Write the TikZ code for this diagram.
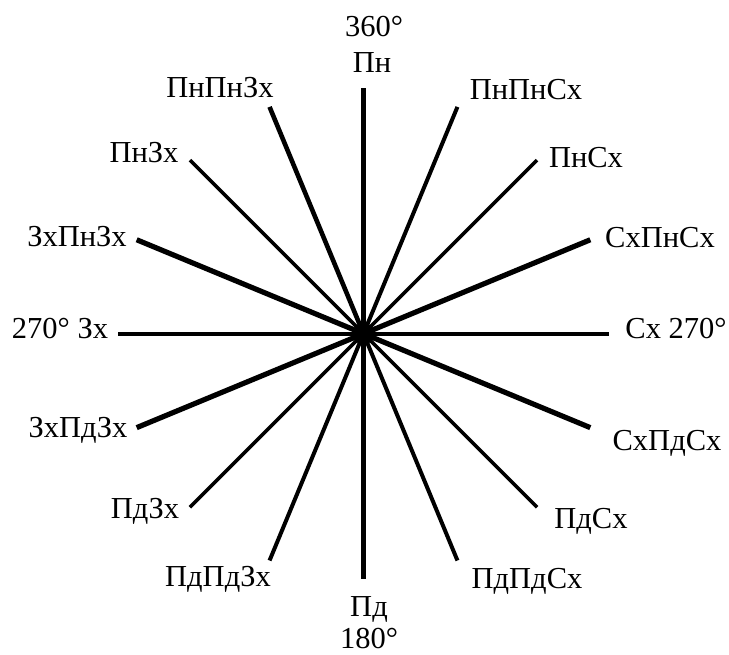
\documentclass[tikz,border=0pt]{standalone}
\usepackage{fontspec}
\setmainfont{Liberation Serif}
\usetikzlibrary{calc}
\begin{document}
\begin{tikzpicture}[x=1pt,y=1pt,
  lbl/.style={anchor=base,inner sep=0pt,font=\fontsize{30.5}{34}\selectfont},
  ray/.style={line width=#1,black},
  ray/.default=3.6pt]
\useasboundingbox (0,0) rectangle (729,-655);
\coordinate (C) at (363.5,-333.7);
% ray end points
\foreach \a/\n in {0/E,22.5/ENE,45/NE,67.5/NNE,90/N,112.5/NNW,135/NW,157.5/WNW,180/W,202.5/WSW,225/SW,247.5/SSW,270/S,292.5/SSE,315/SE,337.5/ESE}
  \coordinate (\n) at ($(C)+(\a:245.5)$);
% rays
\draw[ray=4.2pt] (C) -- (N);
\draw[ray=4.2pt] (C) -- (S);
\draw[ray=4.2pt] (C) -- (E);
\draw[ray=4.2pt] (C) -- (W);
\draw[ray=5.2pt] (C) -- (ENE);
\draw[ray=5.2pt] (C) -- (WNW);
\draw[ray=5.2pt] (C) -- (WSW);
\draw[ray=5.2pt] (C) -- (ESE);
\draw[ray=4.6pt] (C) -- (NNW);
\draw[ray=4pt] (C) -- (NNE);
\draw[ray=4pt] (C) -- (SSW);
\draw[ray=4pt] (C) -- (SSE);
\draw[ray=3.6pt] (C) -- (NE);
\draw[ray=3.6pt] (C) -- (NW);
\draw[ray=3.6pt] (C) -- (SW);
\draw[ray=3.6pt] (C) -- (SE);
\fill (C) circle (11);
% labels
\node[lbl] (l360) at (374,-37) {360°};
\node[lbl] (lN) at (372,-73) {Пн};
\node[lbl] (lNNW) at (220,-98) {ПнПнЗх};
\node[lbl] (lNNE) at (526,-100) {ПнПнСх};
\node[lbl] (lNW) at (144,-163) {ПнЗх};
\node[lbl] (lNE) at (586,-168) {ПнСх};
\node[lbl] (lWNW) at (77,-247) {ЗхПнЗх};
\node[lbl] (lENE) at (660,-248) {СхПнСх};
\node[lbl] (lW) at (60,-338) {270° Зх};
\node[lbl] (lE) at (676,-338) {Сх 270°};
\node[lbl] (lWSW) at (78,-437) {ЗхПдЗх};
\node[lbl] (lESE) at (667,-450) {СхПдСх};
\node[lbl] (lSW) at (145,-518) {ПдЗх};
\node[lbl] (lSE) at (591,-528) {ПдСх};
\node[lbl] (lSSW) at (218,-586) {ПдПдЗх};
\node[lbl] (lSSE) at (527,-588) {ПдПдСх};
\node[lbl] (lS) at (369,-616) {Пд};
\node[lbl] (l180) at (369,-648) {180°};
\end{tikzpicture}
\end{document}
